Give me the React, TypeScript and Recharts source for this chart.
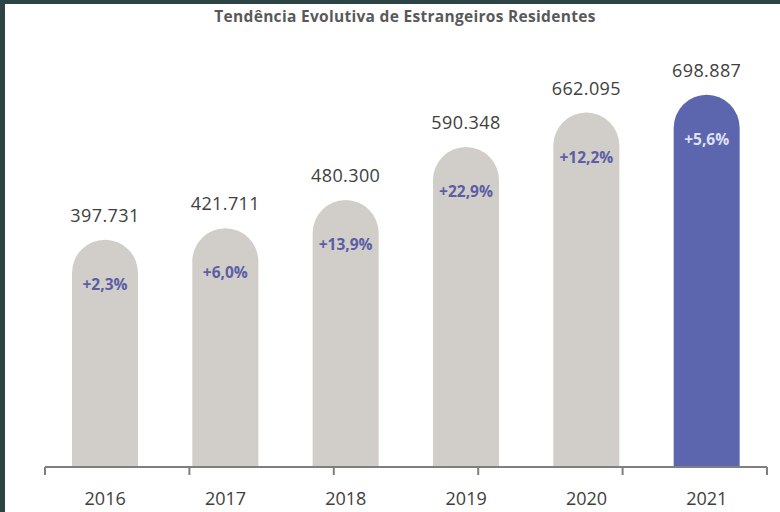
import React from "react";
import { BarChart, Bar, XAxis, YAxis, LabelList, Cell } from "recharts";

const years = ["2016", "2017", "2018", "2019", "2020", "2021"];
const residents = [397731, 421711, 480300, 590348, 662095, 698887];
const growth = ["+2,3%", "+6,0%", "+13,9%", "+22,9%", "+12,2%", "+5,6%"];
const highlightYear = "2021";
const edgeTicks = [0, 1, 2, 3, 4, 5, 6];

const Y_MIN = -72000;
const Y_MAX = 792000;

const GREY = "#d1cdc9";
const BLUE = "#5c66ae";
const FONT = "'Open Sans', 'Noto Sans', sans-serif";

const data = years.map((year, i) => ({
  year,
  value: residents[i],
  growth: growth[i],
}));

const fmt = (v: number) => String(v).replace(/\B(?=(\d{3})+(?!\d))/g, ".");

const ValueLabel = (props: any) => {
  const { x, y, width, index } = props;
  return (
    <text
      x={x + width / 2}
      y={y - 18}
      textAnchor="middle"
      fill="#404040"
      fontSize={18}
      fontFamily={FONT}
      letterSpacing={0.4}
    >
      {fmt(data[index].value)}
    </text>
  );
};

const GrowthLabel = (props: any) => {
  const { x, y, width, index } = props;
  const hi = data[index].year === highlightYear;
  return (
    <text
      x={x + width / 2}
      y={y + 50}
      textAnchor="middle"
      fill={hi ? "#dfe1f4" : "#5b5ea6"}
      fontSize={15.5}
      fontWeight="bold"
      fontFamily={FONT}
    >
      {data[index].growth}
    </text>
  );
};

const YearTick = (props: any) => {
  const { x, y, payload } = props;
  return (
    <text
      x={x}
      y={y + 31}
      textAnchor="middle"
      fill="#404040"
      fontSize={18}
      fontFamily={FONT}
    >
      {payload.value}
    </text>
  );
};

export default function App() {
  return (
    <div
      style={{
        position: "fixed",
        left: 0,
        top: 0,
        width: 780,
        height: 512,
        background: "#2d4444",
      }}
    >
      <div
        style={{
          position: "absolute",
          left: 5,
          top: 4,
          width: 775,
          height: 508,
          background: "#ffffff",
        }}
      />
      <div
        style={{
          position: "absolute",
          left: 0,
          top: 5,
          width: 810,
          textAlign: "center",
          fontFamily: FONT,
          fontWeight: "bold",
          fontSize: 15.5,
          color: "#595959",
          letterSpacing: 0.3,
        }}
      >
        Tendência Evolutiva de Estrangeiros Residentes
      </div>
      <div style={{ position: "absolute", left: 0, top: 0 }}>
        <BarChart
          width={780}
          height={512}
          data={data}
          margin={{ top: 50, right: 13, bottom: 0, left: 45 }}
        >
          <XAxis
            xAxisId="cat"
            dataKey="year"
            height={1}
            axisLine={false}
            tickLine={false}
            tick={<YearTick />}
            interval={0}
          />
          <XAxis
            xAxisId="edge"
            type="number"
            domain={[0, 6]}
            ticks={edgeTicks}
            allowDataOverflow
            height={45}
            tickSize={8}
            tickFormatter={() => ""}
            axisLine={{ stroke: "#7f7f7f", strokeWidth: 2 }}
            tickLine={{ stroke: "#7f7f7f", strokeWidth: 2 }}
          />
          <YAxis hide domain={[Y_MIN, Y_MAX]} allowDataOverflow />
          <Bar
            xAxisId="cat"
            dataKey={(d: any) => [Y_MIN, d.value]}
            barSize={66}
            radius={[33, 33, 0, 0]}
            isAnimationActive={false}
          >
            {data.map((d) => (
              <Cell key={d.year} fill={d.year === highlightYear ? BLUE : GREY} />
            ))}
            <LabelList dataKey="value" content={<ValueLabel />} />
            <LabelList dataKey="growth" content={<GrowthLabel />} />
          </Bar>
        </BarChart>
      </div>
    </div>
  );
}
